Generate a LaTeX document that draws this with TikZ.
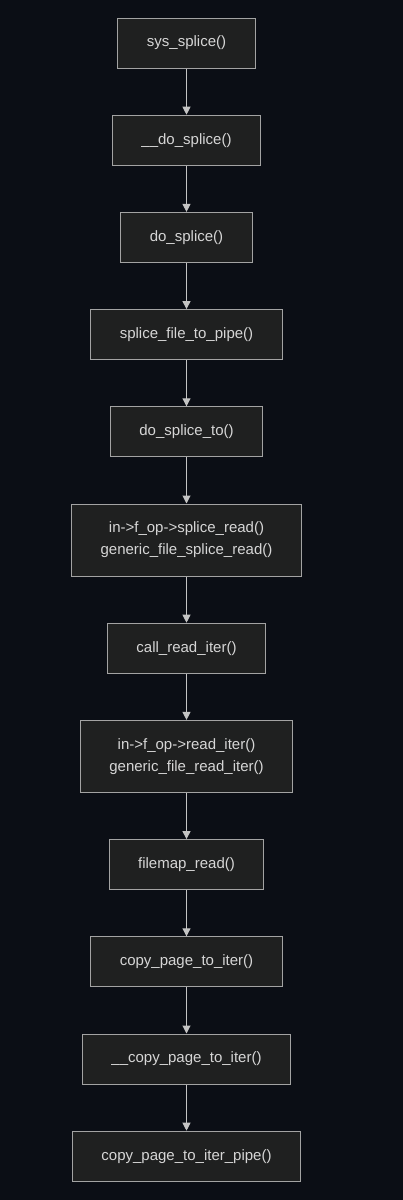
\documentclass[tikz,border=0pt]{standalone}
\usepackage{fontspec}
\setmainfont{Liberation Sans}
\usepackage{xcolor}
\usepackage{tikz}
\usetikzlibrary{arrows.meta,positioning}
\definecolor{kcBack}{HTML}{0B0E15}
\definecolor{kcFill}{HTML}{1F2020}
\definecolor{kcLine}{HTML}{A3A3A3}
\definecolor{kcInk}{HTML}{D6D6D6}
\definecolor{kcArrow}{HTML}{C4C4C4}
\tikzset{
  kc diagram/.style={font=\fontsize{15}{22}\selectfont, text=kcInk,
    line cap=butt, line join=miter, x=1pt, y=1pt,
    node distance=46.2pt},
  kc box/.style={draw=kcLine, fill=kcFill, line width=1pt,
    align=center, inner xsep=29pt, inner ysep=4pt,
    minimum height=50pt},
  kc arrow/.style={-{Triangle[length=8pt,width=8pt]}, draw=kcArrow,
    line width=1pt}
}

\begin{document}
\begin{tikzpicture}[kc diagram]
\fill[kcBack] (0,0) rectangle (403,-1200);
\useasboundingbox (0,0) rectangle (403,-1200);
\node[kc box] (sysSplice) at (186.5,-43) {sys\_splice()};
\node[kc box,below=of sysSplice] (doSpliceU) {\_\_do\_splice()};
\node[kc box,below=of doSpliceU] (doSplice) {do\_splice()};
\node[kc box,below=of doSplice] (fileToPipe) {splice\_file\_to\_pipe()};
\node[kc box,below=of fileToPipe] (spliceTo) {do\_splice\_to()};
\node[kc box,below=of spliceTo,minimum height=72pt] (spliceRead)
  {in->f\_op->splice\_read()\\generic\_file\_splice\_read()};
\node[kc box,below=of spliceRead] (readIter) {call\_read\_iter()};
\node[kc box,below=of readIter,minimum height=72pt] (fileReadIter)
  {in->f\_op->read\_iter()\\generic\_file\_read\_iter()};
\node[kc box,below=of fileReadIter] (mapRead) {filemap\_read()};
\node[kc box,below=of mapRead] (pageIter) {copy\_page\_to\_iter()};
\node[kc box,below=of pageIter] (pageIterU) {\_\_copy\_page\_to\_iter()};
\node[kc box,below=of pageIterU] (pageIterPipe) {copy\_page\_to\_iter\_pipe()};
\draw[kc arrow] (sysSplice) -- (doSpliceU);
\draw[kc arrow] (doSpliceU) -- (doSplice);
\draw[kc arrow] (doSplice) -- (fileToPipe);
\draw[kc arrow] (fileToPipe) -- (spliceTo);
\draw[kc arrow] (spliceTo) -- (spliceRead);
\draw[kc arrow] (spliceRead) -- (readIter);
\draw[kc arrow] (readIter) -- (fileReadIter);
\draw[kc arrow] (fileReadIter) -- (mapRead);
\draw[kc arrow] (mapRead) -- (pageIter);
\draw[kc arrow] (pageIter) -- (pageIterU);
\draw[kc arrow] (pageIterU) -- (pageIterPipe);
\end{tikzpicture}
\end{document}
